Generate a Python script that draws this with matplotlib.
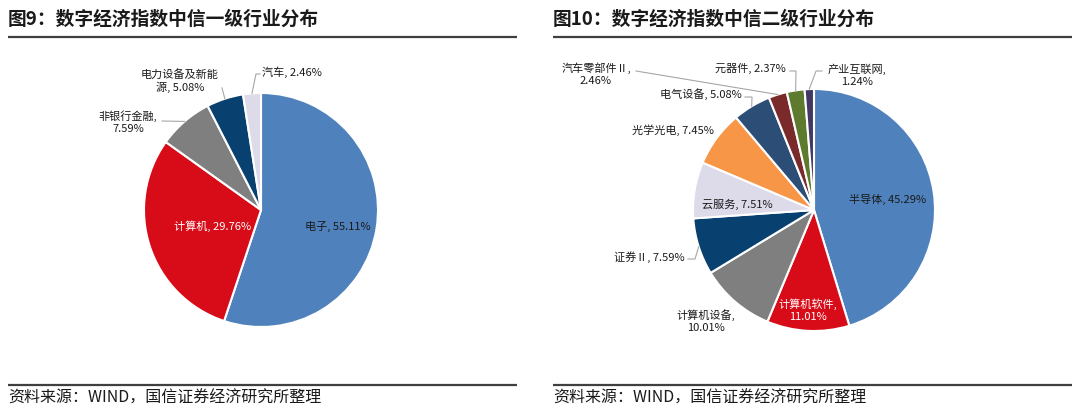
import numpy as np
import matplotlib
matplotlib.use("Agg")
from matplotlib import pyplot as plt

plt.rcParams['font.family'] = ['Noto Sans CJK SC', 'DejaVu Sans']

# ---- data ----
left_title = "图9：数字经济指数中信一级行业分布"
left_names = ["电子", "计算机", "非银行金融", "电力设备及新能源", "汽车"]
left_vals = [55.11, 29.76, 7.59, 5.08, 2.46]

right_title = "图10：数字经济指数中信二级行业分布"
right_names = ["半导体", "计算机软件", "计算机设备", "证券Ⅱ", "云服务", "光学光电",
               "电气设备", "汽车零部件Ⅱ", "元器件", "产业互联网"]
right_vals = [45.29, 11.01, 10.01, 7.59, 7.51, 7.45, 5.08, 2.46, 2.37, 1.24]

source = "资料来源：WIND，国信证券经济研究所整理"

left_colors = ["#4F81BD", "#D80C18", "#7F7F7F", "#08406F", "#DDDAE9"]
right_colors = ["#4F81BD", "#D80C18", "#7F7F7F", "#08406F", "#DDDAE9", "#F79646",
                "#2C4D76", "#7A2A2A", "#5E7A2E", "#433864"]

W, H = 1080, 412


def Y(py):
    return H - py


fig = plt.figure(figsize=(W / 100, H / 100), dpi=100)
ax = fig.add_axes([0, 0, 1, 1])


def draw_pie(vals, colors, cx, cy, r):
    wedges, _ = ax.pie(vals, colors=colors, startangle=90, counterclock=False,
                       center=(cx, Y(cy)), radius=r,
                       wedgeprops=dict(edgecolor="white", linewidth=1.5))
    return wedges


def edge_point(w, cx, cy, r):
    a = np.deg2rad((w.theta1 + w.theta2) / 2)
    return cx + r * np.cos(a), Y(cy) + r * np.sin(a)


def label(txt, x, y, color="#1a1a1a"):
    ax.text(x, Y(y), txt, ha="center", va="center", fontsize=8, color=color,
            linespacing=1.25)


def leader(w, cx, cy, r, pts):
    x0, y0 = edge_point(w, cx, cy, r)
    xs = [x0] + [p[0] for p in pts]
    ys = [y0] + [Y(p[1]) for p in pts]
    ax.plot(xs, ys, color="#A6A6A6", lw=0.8)


# ---- left pie ----
lcx, lcy, lr = 261, 210, 117
lw = draw_pie(left_vals, left_colors, lcx, lcy, lr)
label(f"{left_names[0]}, {left_vals[0]:.2f}%", 338, 226)
label(f"{left_names[1]}, {left_vals[1]:.2f}%", 213, 226, color="white")
label(f"{left_names[2]},\n{left_vals[2]:.2f}%", 128, 122)
label(f"{left_names[3][:7]}\n{left_names[3][7:]}, {left_vals[3]:.2f}%", 180, 81)
label(f"{left_names[4]}, {left_vals[4]:.2f}%", 292, 72)
leader(lw[2], lcx, lcy, lr, [(162, 121)])
leader(lw[3], lcx, lcy, lr, [(222, 88)])
leader(lw[4], lcx, lcy, lr, [(256, 74), (260, 74)])

# ---- right pie ----
rcx, rcy, rr = 814, 210, 121
rw = draw_pie(right_vals, right_colors, rcx, rcy, rr)
label(f"{right_names[0]}, {right_vals[0]:.2f}%", 888, 199)
label(f"{right_names[1]},\n{right_vals[1]:.2f}%", 808, 310, color="white")
label(f"{right_names[2]},\n{right_vals[2]:.2f}%", 706, 321)
label(f"{right_names[3]}, {right_vals[3]:.2f}%", 649, 257)
label(f"{right_names[4]}, {right_vals[4]:.2f}%", 737, 204)
label(f"{right_names[5]}, {right_vals[5]:.2f}%", 673, 130)
label(f"{right_names[6]}, {right_vals[6]:.2f}%", 701, 94)
label(f"{right_names[7]},\n{right_vals[7]:.2f}%", 596, 74)
label(f"{right_names[8]}, {right_vals[8]:.2f}%", 750, 68)
label(f"{right_names[9]},\n{right_vals[9]:.2f}%", 857, 75)
leader(rw[3], rcx, rcy, rr, [(695, 259), (688, 259)])
leader(rw[6], rcx, rcy, rr, [(752, 97), (745, 97)])
leader(rw[7], rcx, rcy, rr, [(636, 71)])
leader(rw[8], rcx, rcy, rr, [(796, 71), (790, 71)])
leader(rw[9], rcx, rcy, rr, [(816, 71), (822, 71)])

# ---- titles, rules, source ----
for x0, x1, t in [(8, 517, left_title), (553, 1072, right_title)]:
    ax.text(x0, Y(19), t, ha="left", va="center", fontsize=13.5,
            fontweight="bold", color="#1a1a1a")
    ax.plot([x0, x1], [Y(37), Y(37)], color="#3F3F3F", lw=1.6,
            solid_capstyle="butt")
    ax.plot([x0, x1], [Y(385), Y(385)], color="#3F3F3F", lw=1.6,
            solid_capstyle="butt")
    ax.text(x0, Y(398), source, ha="left", va="center", fontsize=11.5,
            color="#1a1a1a")

# pie() resets the limits, so fix them at the end
ax.set_xlim(0, W)
ax.set_ylim(0, H)
ax.set_aspect('equal')
ax.axis('off')

fig.savefig("out.png", dpi=100)
